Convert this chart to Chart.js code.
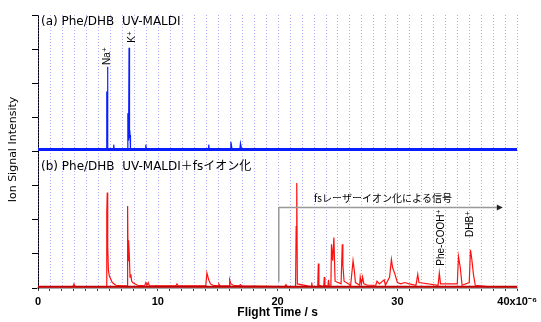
<!DOCTYPE html>
<html>
<head>
<meta charset="utf-8">
<script src="https://cdn.jsdelivr.net/npm/chart.js@4.4.1/dist/chart.umd.min.js"></script>
<style>
  body { margin: 0; background: #fff; }
  #wrap { position: relative; width: 541px; height: 322px; }
</style>
</head>
<body>
<div id="wrap"><canvas id="specChart"></canvas></div>
<script>
// flight time in units of 10^-6 s, intensity in % of panel height
const blueTime = [0, 5.70, 5.74, 5.76, 5.80, 5.84, 6.28, 6.32, 6.36, 7.44, 7.50, 7.56, 7.60, 7.64, 7.68, 7.72, 7.80,
    8.95, 9.00, 9.05, 14.2, 14.25, 14.3, 16.05, 16.1, 16.2, 16.85, 16.9, 17.0, 40];
const blueSig = [1.5, 1.5, 44, 3, 62, 2, 1.5, 5, 1.5, 1.5, 28, 8, 76, 10, 12, 2, 1.5,
    1.5, 5, 1.5, 1.5, 5, 1.5, 1.5, 7, 1.5, 1.5, 6, 1.5, 1.5];

const redTime = [0, 2.9, 3.0, 3.1, 5.70, 5.74, 5.78, 5.82, 5.88, 5.95, 6.05, 6.2, 6.5, 7.0, 7.44, 7.48, 7.52, 7.56, 7.62, 7.68, 7.75, 7.82, 7.9, 8.3,
    8.9, 9.0, 9.1, 9.2, 9.3, 11.5, 11.6, 11.7, 14.0, 14.1, 14.25, 14.4, 14.6, 15.05, 15.1, 15.2, 15.95, 16.0, 16.1, 16.3, 16.8, 16.9, 17.0,
    20.6, 20.7, 20.8, 21.5, 21.55, 21.6, 21.65, 22.8, 22.85, 22.9, 23.35, 23.4, 23.45, 23.85, 23.9, 23.95, 24.2, 24.25, 24.3,
    24.45, 24.5, 24.6, 24.7, 24.8, 25.3, 25.4, 25.45, 25.55, 26.1, 26.3, 26.4, 26.5, 26.85, 26.9, 27.0, 27.1, 27.2, 27.5,
    28.2, 28.3, 28.5, 28.9, 29.0, 29.35, 29.5, 29.6, 29.8, 30.0, 30.3, 30.6, 31.0, 31.55, 31.7, 31.8, 33.4, 33.5, 33.6,
    35.0, 35.1, 35.25, 35.4, 36.0, 36.1, 36.2, 36.35, 36.5, 37.5, 40];
const redSig = [1, 1, 3, 1, 1, 55, 70, 30, 13, 9, 7, 4, 2, 1.5, 1.5, 60, 20, 35, 25, 8, 10, 5, 4, 2,
    1.5, 4, 2, 4, 1.5, 1.5, 3, 1.5, 1.5, 11, 6, 3, 2, 1.5, 3, 1.5, 1.5, 6, 3, 2, 1.5, 2.5, 1.5,
    1, 2.5, 1, 1, 45, 77, 3, 1, 4, 1, 1, 18, 2, 1, 8, 2, 1, 6, 2,
    2, 32, 20, 37, 5, 3, 32, 17, 5, 2, 20, 13, 4, 2, 8, 3, 8, 3, 2,
    2, 5, 3, 6, 2, 8, 21, 15, 10, 4, 3, 4, 3, 2, 10, 4, 2, 11, 3,
    3, 23, 15, 2, 4, 28, 22, 10, 2, 1, 1];

const baseTime = [0, 40];
const blueBase = [1.5, 1.5];
const redBase = [1, 1];

const xTicks = [0, 10, 20, 30, 40];
const xTickLabels = ['0', '10', '20', '30', '40x10\u207B\u2076'];

const pts = (xs, ys) => xs.map((x, i) => ({ x: x, y: ys[i] }));

const annotations = {
    id: 'annotations',
    beforeDatasetsDraw(chart) {
        // dotted vertical grid, one line per microsecond
        const ctx = chart.ctx, x = chart.scales.x, a = chart.chartArea;
        ctx.save();
        ctx.strokeStyle = 'rgba(110,110,240,0.55)';
        ctx.lineWidth = 1;
        ctx.setLineDash([1, 2]);
        x.ticks.forEach(t => {
            const px = Math.round(x.getPixelForValue(t.value)) + 0.5;
            ctx.beginPath();
            ctx.moveTo(px, a.top);
            ctx.lineTo(px, a.bottom);
            ctx.stroke();
        });
        ctx.restore();
    },
    afterDatasetsDraw(chart) {
        const ctx = chart.ctx;
        const x = chart.scales.x, yT = chart.scales.yTop, yB = chart.scales.yBot;
        ctx.save();
        ctx.fillStyle = '#000';
        ctx.textBaseline = 'middle';
        ctx.textAlign = 'left';
        ctx.font = '12px "DejaVu Sans", "Noto Sans CJK JP"';
        ctx.fillText('(a) Phe/DHB  UV-MALDI', x.left + 3, yT.top + 7);
        ctx.fillText('(b) Phe/DHB  UV-MALDI\uFF0Bfs\u30A4\u30AA\u30F3\u5316', x.left + 3, yB.top + 15);

        // y axis title
        ctx.save();
        ctx.font = '11px "DejaVu Sans"';
        ctx.translate(13, (yT.top + yB.bottom) / 2 - 2);
        ctx.rotate(-Math.PI / 2);
        ctx.textAlign = 'center';
        ctx.fillText('Ion Signal Intensity', 0, 0);
        ctx.restore();

        // rotated peak labels
        const vlabel = (txt, px, py, size) => {
            ctx.save();
            ctx.translate(px, py);
            ctx.rotate(-Math.PI / 2);
            ctx.textAlign = 'center';
            ctx.font = size + 'px "Liberation Sans", "DejaVu Sans"';
            ctx.fillText(txt, 0, 0);
            ctx.restore();
        };
        vlabel('Na\u207A', x.getPixelForValue(5.75), yT.getPixelForValue(70), 10);
        vlabel('K\u207A', x.getPixelForValue(7.9), yT.getPixelForValue(84), 10);
        vlabel('Phe-COOH\u207A', x.getPixelForValue(33.7), yB.getPixelForValue(37), 10);
        vlabel('DHB\u207A', x.getPixelForValue(36.05), yB.getPixelForValue(47), 10);

        // fs ionization bracket arrow
        const ax0 = x.getPixelForValue(20.1), ax1 = x.getPixelForValue(38.3);
        const ay = yB.getPixelForValue(59), ayLow = yB.getPixelForValue(4.5);
        ctx.strokeStyle = '#999';
        ctx.lineWidth = 1.5;
        ctx.beginPath();
        ctx.moveTo(ax0, ayLow);
        ctx.lineTo(ax0, ay);
        ctx.lineTo(ax1, ay);
        ctx.stroke();
        ctx.fillStyle = '#222';
        ctx.beginPath();
        ctx.moveTo(ax1 + 6, ay);
        ctx.lineTo(ax1, ay - 3);
        ctx.lineTo(ax1, ay + 3);
        ctx.closePath();
        ctx.fill();
        ctx.fillStyle = '#000';
        ctx.textAlign = 'center';
        ctx.font = '10px "Noto Sans CJK JP"';
        ctx.fillText('fs\u30EC\u30FC\u30B6\u30FC\u30A4\u30AA\u30F3\u5316\u306B\u3088\u308B\u4FE1\u53F7', x.getPixelForValue(28.8), yB.getPixelForValue(65.5));
        ctx.restore();
    }
};

new Chart(document.getElementById('specChart'), {
    type: 'line',
    data: {
        datasets: [
            { data: pts(baseTime, blueBase), xAxisID: 'x', yAxisID: 'yTop', borderColor: '#0a1eff', borderWidth: 3, pointRadius: 0 },
            { data: pts(blueTime, blueSig), xAxisID: 'x', yAxisID: 'yTop', borderColor: '#0a1eff', borderWidth: 1.2, pointRadius: 0, tension: 0 },
            { data: pts(baseTime, redBase), xAxisID: 'x', yAxisID: 'yBot', borderColor: '#c00000', borderWidth: 2, pointRadius: 0 },
            { data: pts(redTime, redSig), xAxisID: 'x', yAxisID: 'yBot', borderColor: '#ff1010', borderWidth: 1.2, pointRadius: 0, tension: 0 }
        ]
    },
    options: {
        responsive: true,
        maintainAspectRatio: false,
        animation: false,
        layout: { padding: { top: 15, right: 16, left: 0, bottom: 0 } },
        plugins: { legend: { display: false }, tooltip: { enabled: false } },
        scales: {
            x: {
                type: 'linear',
                min: 0,
                max: 40,
                afterBuildTicks: s => { s.ticks = Array.from({ length: 41 }, (_, i) => ({ value: i })); },
                ticks: {
                    autoSkip: false,
                    maxRotation: 0,
                    padding: 4,
                    color: '#000',
                    font: { family: '"Liberation Sans"', size: 11, weight: 'bold' },
                    callback: v => { const i = xTicks.indexOf(v); return i >= 0 ? xTickLabels[i] : ''; }
                },
                grid: { drawOnChartArea: false, tickLength: 3, tickColor: '#444' },
                border: { color: '#aaa', width: 2 },
                title: { display: true, text: 'Flight Time / s', color: '#000', padding: { top: 0, bottom: 2 },
                    font: { family: '"Liberation Sans"', size: 12, weight: 'bold' } },
                afterFit: s => { s.height = 34; }
            },
            yBot: {
                type: 'linear', position: 'left', stack: 'spec', stackWeight: 1,
                min: 0, max: 100,
                ticks: { display: false, stepSize: 25 },
                grid: { drawOnChartArea: false, tickLength: 6, tickColor: '#000' },
                border: { color: '#000', width: 1 },
                afterFit: s => { s.width = 38; }
            },
            yTop: {
                type: 'linear', position: 'left', stack: 'spec', stackWeight: 1,
                min: 0, max: 100,
                ticks: { display: false, stepSize: 25 },
                grid: { drawOnChartArea: false, tickLength: 6, tickColor: '#000' },
                border: { color: '#000', width: 1 },
                afterFit: s => { s.width = 38; }
            }
        }
    },
    plugins: [annotations]
});
</script>
</body>
</html>
